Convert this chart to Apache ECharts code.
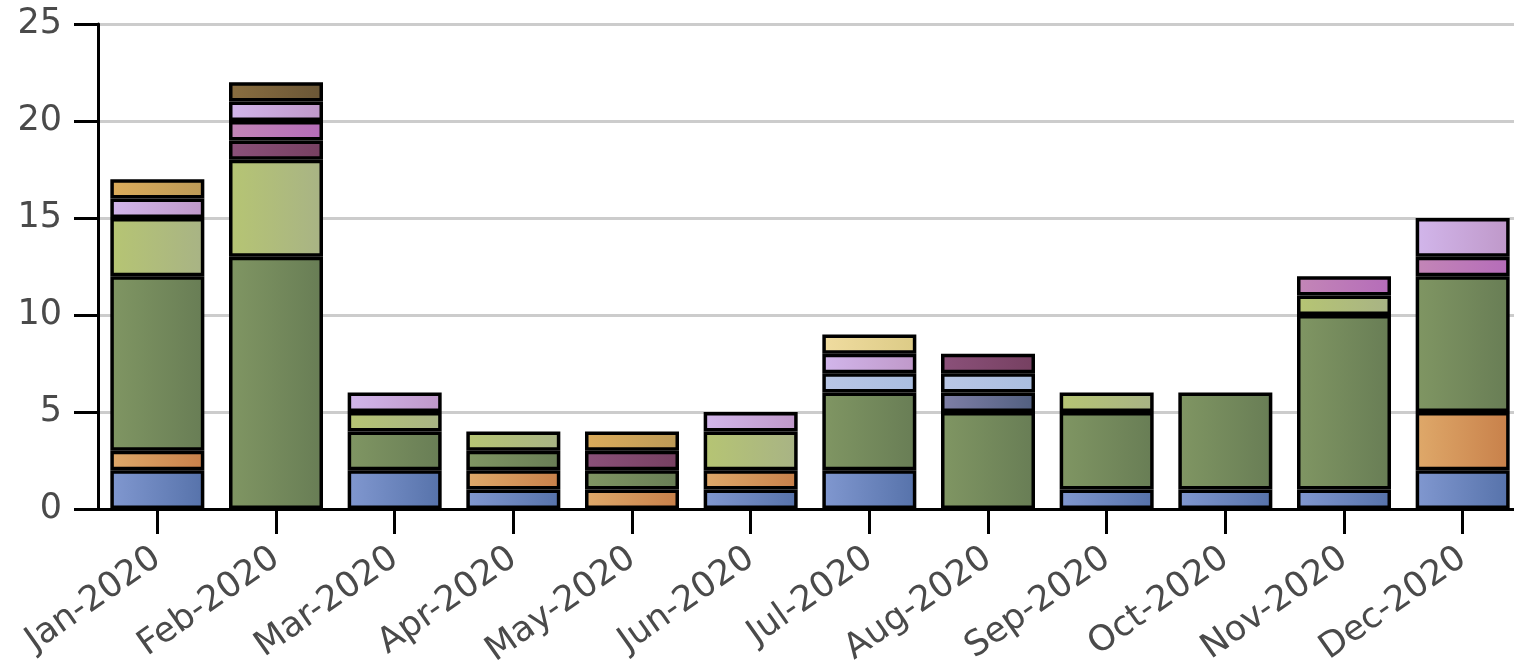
<!DOCTYPE html>
<html lang="en">
<head>
    <meta charset="UTF-8">
    <title>Monthly stacked bars 2020</title>
    <script src="https://cdn.jsdelivr.net/npm/echarts@6/dist/echarts.min.js"></script>
    <style>
        html, body { margin: 0; padding: 0; background: #fff; }
        #chart { width: 1514px; height: 671px; }
    </style>
</head>
<body>
    <div id="chart"></div>
    <script>
        // categories
        var months = ['Jan-2020', 'Feb-2020', 'Mar-2020', 'Apr-2020', 'May-2020', 'Jun-2020',
            'Jul-2020', 'Aug-2020', 'Sep-2020', 'Oct-2020', 'Nov-2020', 'Dec-2020'];
        var yTicks = [0, 5, 10, 15, 20, 25];

        // series values, bottom of the stack first
        var blue        = [2, 0, 2, 1, 0, 1, 2, 0, 1, 1, 1, 2];
        var orange      = [1, 0, 0, 1, 1, 1, 0, 0, 0, 0, 0, 3];
        var green       = [9, 13, 2, 1, 1, 0, 4, 5, 4, 5, 9, 7];
        var lightGreen  = [3, 5, 1, 1, 0, 2, 0, 0, 1, 0, 1, 0];
        var slate       = [0, 0, 0, 0, 0, 0, 0, 1, 0, 0, 0, 0];
        var lightBlue   = [0, 0, 0, 0, 0, 0, 1, 1, 0, 0, 0, 0];
        var darkPurple  = [0, 1, 0, 0, 1, 0, 0, 1, 0, 0, 0, 0];
        var magenta     = [0, 1, 0, 0, 0, 0, 0, 0, 0, 0, 1, 1];
        var lightPurple = [1, 1, 1, 0, 0, 1, 1, 0, 0, 0, 0, 2];
        var golden      = [1, 0, 0, 0, 1, 0, 0, 0, 0, 0, 0, 0];
        var lightYellow = [0, 0, 0, 0, 0, 0, 1, 0, 0, 0, 0, 0];
        var brown       = [0, 1, 0, 0, 0, 0, 0, 0, 0, 0, 0, 0];

        var stack = [
            { name: 'A', data: blue,        c: ['#8198d0', '#5672aa'] },
            { name: 'B', data: orange,      c: ['#dfa96a', '#c8804a'] },
            { name: 'C', data: green,       c: ['#809663', '#687d55'] },
            { name: 'D', data: lightGreen,  c: ['#b6c573', '#a8b385'] },
            { name: 'E', data: slate,       c: ['#7f7fa7', '#515f80'] },
            { name: 'F', data: lightBlue,   c: ['#b9c6e5', '#aabee0'] },
            { name: 'G', data: darkPurple,  c: ['#8b517a', '#764061'] },
            { name: 'H', data: magenta,     c: ['#c386b7', '#b56cb9'] },
            { name: 'I', data: lightPurple, c: ['#d2b6eb', '#bf98c9'] },
            { name: 'J', data: golden,      c: ['#dcac5b', '#bc9a57'] },
            { name: 'K', data: lightYellow, c: ['#f0dca0', '#dccb86'] },
            { name: 'L', data: brown,       c: ['#8a6e40', '#6a5636'] }
        ];

        var series = stack.map(function (s) {
            return {
                name: s.name,
                type: 'bar',
                stack: 'total',
                barWidth: 94,
                // empty cells stay empty so no stray border lines
                data: s.data.map(function (v) { return v === 0 ? '-' : v; }),
                itemStyle: {
                    color: new echarts.graphic.LinearGradient(0, 0, 1, 0, [
                        { offset: 0, color: s.c[0] },
                        { offset: 1, color: s.c[1] }
                    ]),
                    borderColor: '#000',
                    borderWidth: 3.5
                },
                emphasis: { disabled: true }
            };
        });

        var myChart = echarts.init(document.getElementById('chart'));
        var option = {
            animation: false,
            grid: {
                left: 98,
                top: 24,
                bottom: 162,
                width: 1424,
                containLabel: false,
                outerBoundsMode: 'none'
            },
            xAxis: {
                type: 'category',
                data: months,
                boundaryGap: true,
                axisLine: { show: true, lineStyle: { color: '#000', width: 3 } },
                axisTick: { show: true, alignWithLabel: true, length: 25, lineStyle: { color: '#000', width: 3 } },
                axisLabel: {
                    rotate: 35,
                    margin: 46,
                    interval: 0,
                    color: '#4a4a4a',
                    fontSize: 35,
                    fontFamily: 'DejaVu Sans'
                },
                splitLine: { show: false }
            },
            yAxis: {
                type: 'value',
                min: yTicks[0],
                max: yTicks[yTicks.length - 1],
                interval: 5,
                axisLine: { show: true, lineStyle: { color: '#000', width: 3 } },
                axisTick: { show: true, length: 24, lineStyle: { color: '#000', width: 3 } },
                axisLabel: {
                    margin: 36,
                    color: '#4a4a4a',
                    fontSize: 35,
                    fontFamily: 'DejaVu Sans'
                },
                splitLine: { show: true, lineStyle: { color: '#cccccc', width: 3 } }
            },
            series: series
        };
        myChart.setOption(option);
    </script>
</body>
</html>
